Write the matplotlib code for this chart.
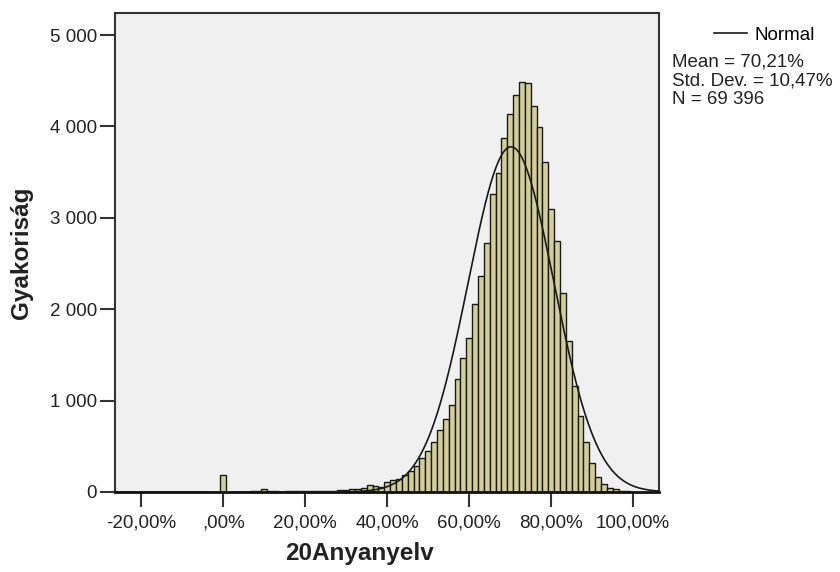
import numpy as np
import matplotlib
matplotlib.use("Agg")
import matplotlib.pyplot as plt
from matplotlib.ticker import FuncFormatter

plt.rcParams['font.family'] = ['Liberation Sans', 'DejaVu Sans']

# score on a 70-point test, one bar per point, shown as percent
max_points = 70
points = np.arange(0, 71)
counts = [185, 2, 3, 4, 5, 8, 10, 38, 10, 6,
          5, 6, 8, 9, 8, 10, 10, 12, 14, 16,
          20, 24, 30, 36, 42, 75, 68, 58, 106, 132,
          143, 187, 231, 289, 370, 454, 548, 681, 802, 948,
          1231, 1465, 1689, 2055, 2366, 2725, 3256, 3495, 3875, 4136,
          4348, 4491, 4473, 4227, 3993, 3612, 3092, 2751, 2172, 1652,
          1157, 835, 542, 315, 168, 84, 48, 30, 14, 6,
          3]

mean_pct = 70.21
sd_pct = 10.47
n_total = 69396

x_ticks = [-20, 0, 20, 40, 60, 80, 100]
y_ticks = [0, 1000, 2000, 3000, 4000, 5000]

bin_w = 100.0 / max_points
centers = points * bin_w

fig = plt.figure(figsize=(8.4, 5.72), dpi=100)
ax = fig.add_axes([115 / 840, 1 - 492 / 572, 544 / 840, 479 / 572])
ax.set_facecolor('#F0F0F0')

ax.bar(centers, counts, width=bin_w, color='#D4CF98', edgecolor='#1a1a1a',
       linewidth=1.0, zorder=2)

xlo, xhi = -26.4, 106.3
xs = np.linspace(xlo, xhi, 600)
ys = n_total * bin_w / (sd_pct * np.sqrt(2 * np.pi)) * np.exp(-0.5 * ((xs - mean_pct) / sd_pct) ** 2)
curve, = ax.plot(xs, ys, color='#1a1a1a', linewidth=1.2, zorder=3, label='Normal')

ax.set_xlim(xlo, xhi)
ax.set_ylim(0, 5241)
ax.set_xticks(x_ticks)
ax.set_yticks(y_ticks)


def pct_fmt(v, pos):
    s = f"{v:.2f}".replace('.', ',')
    if s.startswith('0,'):
        s = s[1:]
    return s + '%'


def thousands_fmt(v, pos):
    return f"{int(v):,}".replace(',', ' ')


ax.xaxis.set_major_formatter(FuncFormatter(pct_fmt))
ax.yaxis.set_major_formatter(FuncFormatter(thousands_fmt))
ax.tick_params(axis='both', direction='out', length=11, width=1.5, color='#333333',
               labelsize=13.5, labelcolor='#222222')
ax.tick_params(axis='y', pad=2)
ax.tick_params(axis='x', pad=5)
for sp in ax.spines.values():
    sp.set_color('#333333')
    sp.set_linewidth(1.5)
ax.spines['bottom'].set_color('#111111')
ax.spines['bottom'].set_linewidth(2)

ax.set_xlabel('20Anyanyelv', fontsize=17.5, fontweight='bold', color='#222222')
ax.set_ylabel('Gyakoriság', fontsize=17.5, fontweight='bold', color='#222222')
ax.xaxis.set_label_coords(0.45, -0.105)
ax.yaxis.set_label_coords(-0.15, 0.5)

fig.legend(handles=[curve], loc='center left', bbox_to_anchor=(714 / 840, 1 - 35 / 572),
           frameon=False, fontsize=13.5, borderpad=0, borderaxespad=0,
           handlelength=1.75, handletextpad=0.42)

stats = ["Mean = " + f"{mean_pct:.2f}".replace('.', ',') + "%",
         "Std. Dev. = " + f"{sd_pct:.2f}".replace('.', ',') + "%",
         "N = " + f"{n_total:,}".replace(',', ' ')]
for i, line in enumerate(stats):
    fig.text(672 / 840, 1 - (67 + 18.3 * i) / 572, line, fontsize=13.5,
             color='#222222', va='baseline', ha='left')

fig.savefig('out.png', dpi=100, facecolor='white')
